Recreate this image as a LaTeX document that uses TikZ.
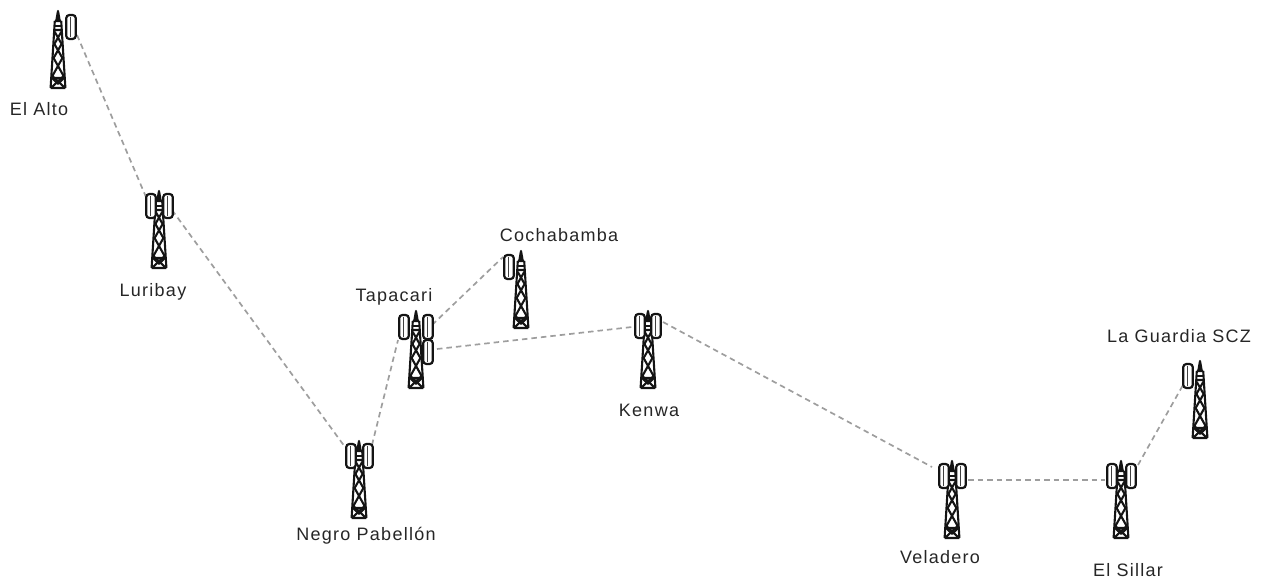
\documentclass[tikz,border=0pt]{standalone}
\usepackage{fontspec}
\setmainfont[LetterSpace=7]{Liberation Sans}
\tikzset{
  x=1pt,y=-1pt,
  link/.style={draw=black!38,line width=1.7pt,dash pattern=on 5.5pt off 4pt},
  tline/.style={draw=black!92,line width=2.1pt,line join=round},
  dishshape/.style={draw=black!92,line width=2.2pt,fill=white,rounded corners=3.2pt},
  lab/.style={font=\fontsize{18}{20}\selectfont,text=black!85,inner sep=0pt,anchor=center},
  towerpic/.pic={
    \path[tline,fill=black!92] (-1.6,10)--(0,1)--(1.6,10)--cycle;
    \path[tline] (-3.2,11)--(-7.4,78) (3.2,11)--(7.4,78) (-3.2,11)--(3.2,11);
    \path[tline] (-3,20)--(3,20) (-3.2,22)--(3.6,34)--(-4.4,48)--(5.6,66)--(-7,78)
                 (3.2,22)--(-3.6,34)--(4.4,48)--(-5.6,66)--(7,78);
    \path[tline] (-7.4,78)--(7.4,78) (-6.2,68)--(6.2,68) (-6,68)--(0,74)--(6,68);
    \path[tline] (-4,16)--(4,16);
  },
  dishpic/.pic={
    \path[dishshape] (-4.8,-12) rectangle (4.8,12);
    \path[draw=black!75,line width=1.1pt] (-0.8,-10) -- (-0.8,10);
  }
}
\begin{document}
\begin{tikzpicture}
\useasboundingbox (0,0) rectangle (1265,580);
% antenna anchors
\coordinate (aAltoR) at (77,35);
\coordinate (aLuriL) at (146,197);
\coordinate (aLuriR) at (172,210);
\coordinate (aNegrL) at (345,447);
\coordinate (aNegrR) at (372,445);
\coordinate (aTapaL) at (398,340);
\coordinate (aTapaU) at (432,325);
\coordinate (aCochL) at (503,257);
\coordinate (aTapaD) at (437,349);
\coordinate (aKenwL) at (632,327);
\coordinate (aKenwR) at (663,322);
\coordinate (aVeldL) at (932,467);
\coordinate (aVeldR) at (968,480);
\coordinate (aSillL) at (1105,480);
\coordinate (aSillR) at (1138,465);
\coordinate (aGuarL) at (1183,385);
% links
\draw[link] (aAltoR)--(aLuriL);
\draw[link] (aLuriR)--(aNegrL);
\draw[link] (aNegrR)--(aTapaL);
\draw[link] (aTapaU)--(aCochL);
\draw[link] (aTapaD)--(aKenwL);
\draw[link] (aKenwR)--(aVeldL);
\draw[link] (aVeldR)--(aSillL);
\draw[link] (aSillR)--(aGuarL);
% towers
\pic at (58,10) {towerpic};
\pic at (71,27) {dishpic};
\pic at (159,190) {towerpic};
\pic at (151,206) {dishpic};
\pic at (168,206) {dishpic};
\pic at (359,440) {towerpic};
\pic at (351,456) {dishpic};
\pic at (368,456) {dishpic};
\pic at (416,310) {towerpic};
\pic at (404,327) {dishpic};
\pic at (428,327) {dishpic};
\pic at (428,352) {dishpic};
\pic at (521,250) {towerpic};
\pic at (509,267) {dishpic};
\pic at (648,310) {towerpic};
\pic at (640,326) {dishpic};
\pic at (656,326) {dishpic};
\pic at (952,460) {towerpic};
\pic at (944,476) {dishpic};
\pic at (961,476) {dishpic};
\pic at (1121,460) {towerpic};
\pic at (1112,476) {dishpic};
\pic at (1131,476) {dishpic};
\pic at (1200,360) {towerpic};
\pic at (1188,376) {dishpic};
% labels
\node[lab] (lAlto) at (39,109) {El Alto};
\node[lab] (lLuri) at (153,292) {Luribay};
\node[lab] (lNegr) at (366,536) {Negro Pabellón};
\node[lab] (lTapa) at (394,297) {Tapacari};
\node[lab] (lCoch) at (559,235) {Cochabamba};
\node[lab] (lKenw) at (649,410) {Kenwa};
\node[lab] (lVeld) at (940,557) {Veladero};
\node[lab] (lSill) at (1128,570) {El Sillar};
\node[lab] (lGuar) at (1179,336) {La Guardia SCZ};
\end{tikzpicture}
\end{document}
